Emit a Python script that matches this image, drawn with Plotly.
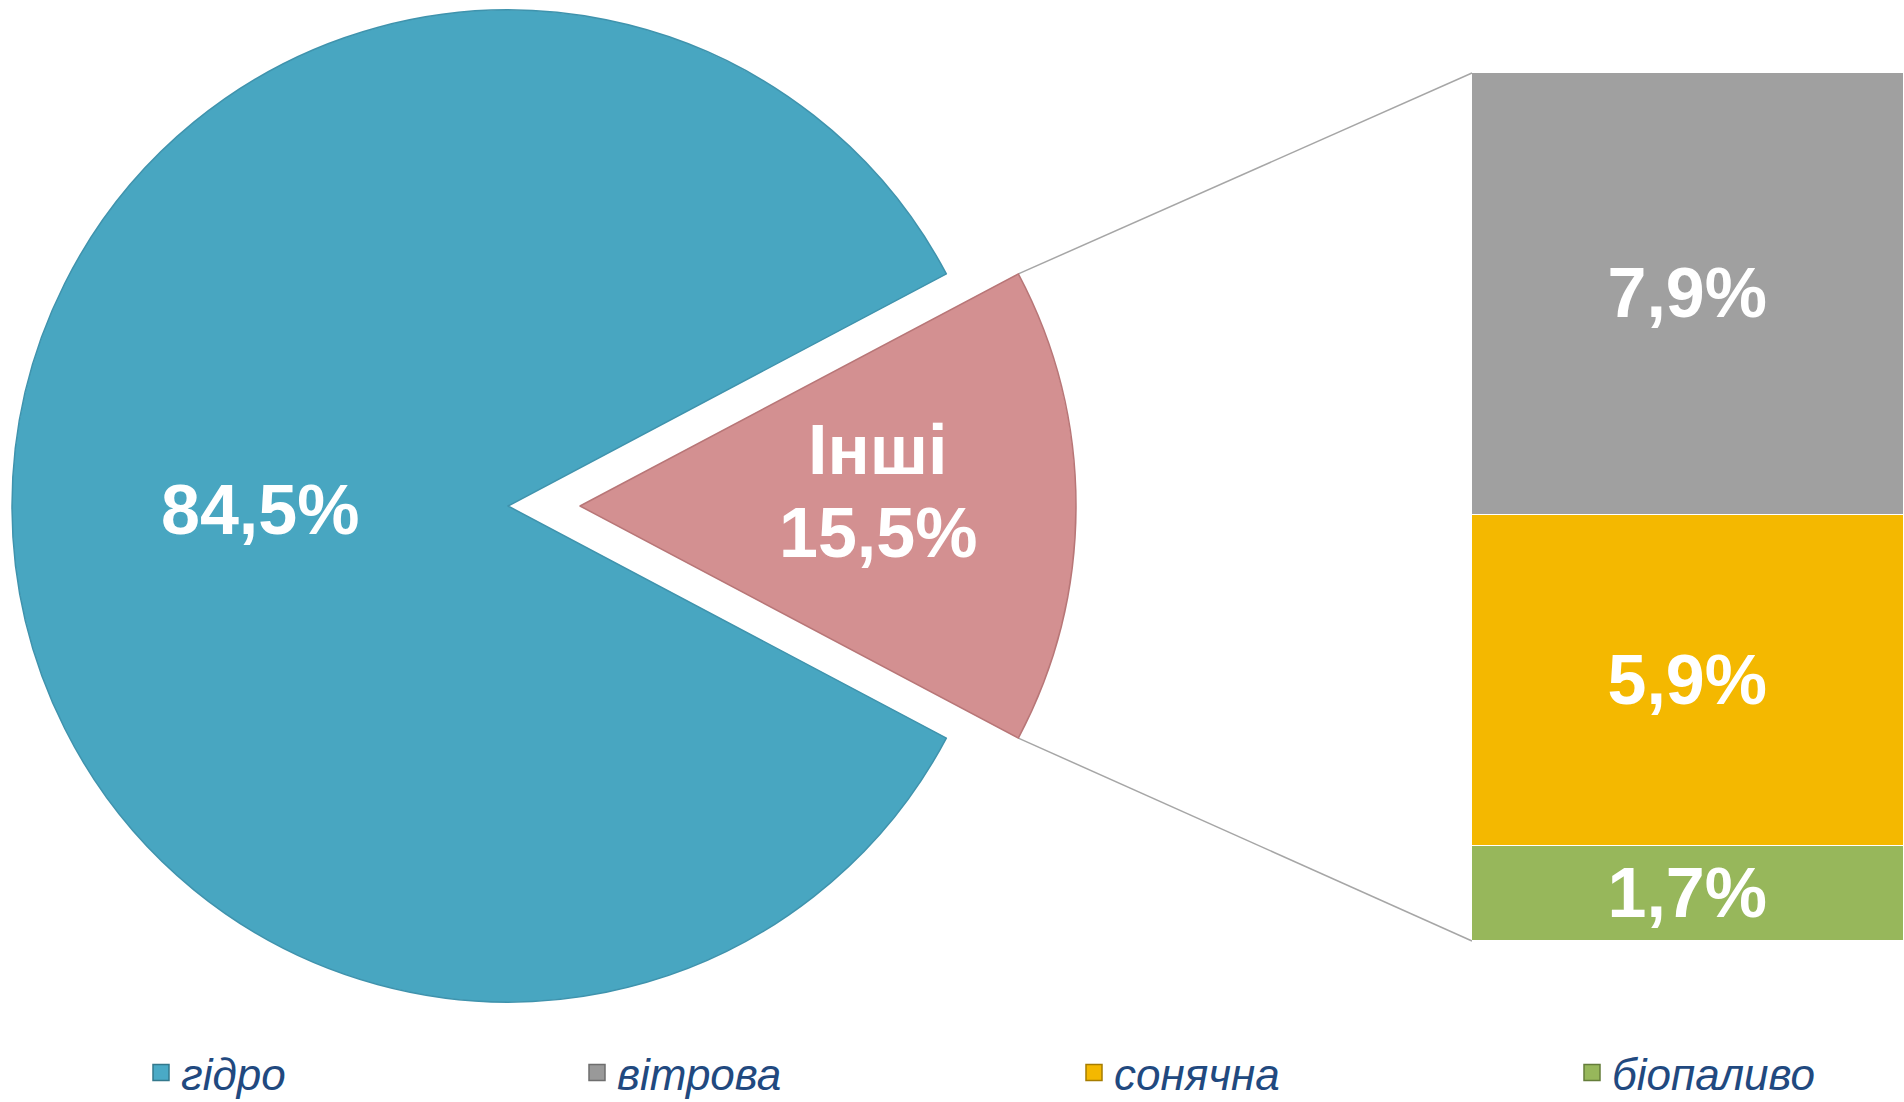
import math
import plotly.graph_objects as go

W, H = 1904, 1102

# ---------------- data ----------------
pie_labels = ["Інші", "гідро"]
pie_values = [15.5, 84.5]
pie_colors = ["#D39091", "#48A6C1"]
pie_line_colors = ["#B87677", "#3F93AD"]

bar_labels = ["біопаливо", "сонячна", "вітрова"]   # bottom -> top
bar_values = [1.7, 5.9, 7.9]
bar_colors = ["#97B75B", "#F4B800", "#A0A0A0"]

legend_labels = ["гідро", "вітрова", "сонячна", "біопаливо"]
legend_colors = ["#4AAAC6", "#999999", "#F4B800", "#97B75B"]
legend_line = ["#33788C", "#6E6E6E", "#A67C00", "#647D3A"]


def fmt(v):
    return f"{v:.1f}".replace(".", ",") + "%"


# ---------------- geometry (pixels) ----------------
R = 496
CX, CY = 508, 506          # hydro pie centre
EXPLODE = 72               # offset of the exploded slice
BAR_X0 = 1472 / W
BAR_Y0 = 1 - 941 / H
BAR_Y1 = 1 - 73 / H

total = sum(pie_values)
other_share = pie_values[0] / total
half = math.pi * other_share          # half angle of exploded slice (rad)
rotation = 90 - math.degrees(half)


def dom(cx, cy):
    return dict(x=[(cx - R) / W, (cx + R) / W],
                y=[1 - (cy + R) / H, 1 - (cy - R) / H])


fig = go.Figure()

# main pie (hydro slice visible)
fig.add_trace(go.Pie(
    labels=pie_labels, values=pie_values, sort=False, direction="clockwise",
    rotation=rotation, domain=dom(CX, CY), textinfo="none", hoverinfo="label+percent",
    marker=dict(colors=["rgba(0,0,0,0)", pie_colors[1]],
                line=dict(color=["rgba(0,0,0,0)", pie_line_colors[1]], width=[0, 1.5])),
    showlegend=False,
))
# exploded slice
fig.add_trace(go.Pie(
    labels=pie_labels, values=pie_values, sort=False, direction="clockwise",
    rotation=rotation, domain=dom(CX + EXPLODE, CY), textinfo="none", hoverinfo="label+percent",
    marker=dict(colors=[pie_colors[0], "rgba(0,0,0,0)"],
                line=dict(color=[pie_line_colors[0], "rgba(0,0,0,0)"], width=[1.5, 0])),
    showlegend=False,
))

# stacked bar of the "others"
for lab, val, col in zip(bar_labels, bar_values, bar_colors):
    fig.add_trace(go.Bar(
        x=["Інші"], y=[val], name=lab, width=1,
        marker=dict(color=col, line=dict(color="white", width=1.5)),
        text=[fmt(val)], textposition="inside", insidetextanchor="middle",
        constraintext="none",
        textfont=dict(family="Liberation Sans, Arial, sans-serif", size=70,
                      color="white", weight="bold"),
        showlegend=False, hoverinfo="name+y",
    ))

# legend-only traces (one legend each, placed like the reference)
legend_x = [163, 599, 1096, 1594]
legend_names = ["legend", "legend2", "legend3", "legend4"]
for lab, col, lcol, ln in zip(legend_labels, legend_colors, legend_line, legend_names):
    fig.add_trace(go.Scatter(
        x=[None], y=[None], mode="markers", name=lab, legend=ln,
        marker=dict(symbol="square", size=16, color=col, line=dict(color=lcol, width=1.5)),
        showlegend=True,
    ))

legend_common = dict(
    orientation="h", yanchor="middle", xanchor="left", y=1 - 1073 / H,
    bgcolor="rgba(0,0,0,0)", borderwidth=0,
    font=dict(family="Liberation Sans, Arial, sans-serif", size=44,
              color="#21497F", style="italic"),
)
layout_legends = {}
for ln, lx in zip(legend_names, legend_x):
    d = dict(legend_common)
    d["x"] = (lx - 22) / W
    layout_legends[ln] = d

# connector lines from the exploded slice to the bar
sx = CX + EXPLODE + R * math.cos(half)
sy_top = CY - R * math.sin(half)
sy_bot = CY + R * math.sin(half)
shapes = [
    dict(type="line", xref="paper", yref="paper",
         x0=sx / W, y0=1 - sy_top / H, x1=BAR_X0, y1=BAR_Y1,
         line=dict(color="#A6A6A6", width=1.5), layer="below"),
    dict(type="line", xref="paper", yref="paper",
         x0=sx / W, y0=1 - sy_bot / H, x1=BAR_X0, y1=BAR_Y0,
         line=dict(color="#A6A6A6", width=1.5), layer="below"),
]

# pie labels
label_font = dict(family="Liberation Sans, Arial, sans-serif", size=70,
                  color="white", weight="bold")
ox = (CX + EXPLODE + 0.6 * R) / W
annotations = [
    dict(x=(CX - 0.5 * R) / W, y=1 - (CY + 4) / H, xref="paper", yref="paper",
         text=fmt(pie_values[1]), showarrow=False, font=label_font,
         xanchor="center", yanchor="middle"),
    dict(x=ox, y=1 - (CY - 56) / H, xref="paper", yref="paper",
         text=pie_labels[0], showarrow=False, font=label_font,
         xanchor="center", yanchor="middle"),
    dict(x=ox, y=1 - (CY + 27) / H, xref="paper", yref="paper",
         text=fmt(pie_values[0]), showarrow=False, font=label_font,
         xanchor="center", yanchor="middle"),
]

fig.update_layout(
    width=W, height=H, margin=dict(l=0, r=0, t=0, b=0, autoexpand=False),
    paper_bgcolor="white", plot_bgcolor="rgba(0,0,0,0)",
    barmode="stack", bargap=0,
    xaxis=dict(domain=[BAR_X0, 1], range=[-0.5, 0.5], visible=False, fixedrange=True),
    yaxis=dict(domain=[BAR_Y0, BAR_Y1], range=[0, sum(bar_values)], visible=False,
               fixedrange=True),
    shapes=shapes, annotations=annotations,
    **layout_legends,
)

fig.write_html(
    "out.html",
    config={"displayModeBar": False},
    post_script="document.body.style.margin='0';document.body.style.overflow='hidden';",
)
